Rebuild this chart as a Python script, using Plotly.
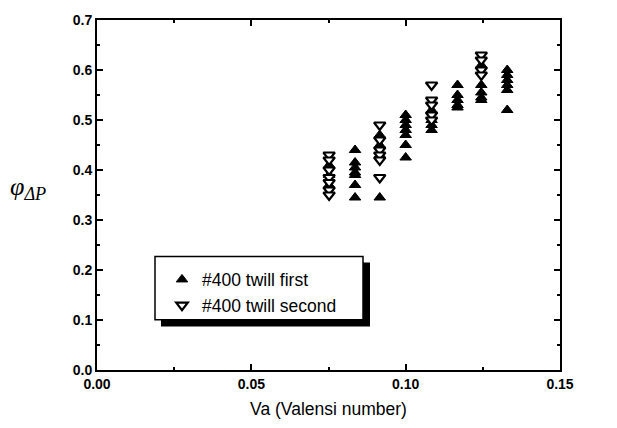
import plotly.graph_objects as go

# Va values of the data columns
va_cols = [0.0752, 0.0836, 0.0916, 0.1000, 0.1084, 0.1168, 0.1245, 0.1329]

# #400 twill first (filled up-triangles), per column
first_vals = [
    [0.41, 0.39, 0.37],
    [0.44, 0.415, 0.405, 0.395, 0.39, 0.37, 0.345],
    [0.47, 0.45, 0.43, 0.345],
    [0.51, 0.50, 0.49, 0.48, 0.47, 0.45, 0.425],
    [0.52, 0.50, 0.49, 0.48],
    [0.57, 0.55, 0.54, 0.53, 0.525],
    [0.61, 0.57, 0.555, 0.545, 0.54],
    [0.60, 0.59, 0.58, 0.57, 0.56, 0.52],
]

# #400 twill second (open down-triangles), per column
second_vals = [
    [0.43, 0.42, 0.40, 0.385, 0.375, 0.36, 0.35],
    [],
    [0.49, 0.46, 0.44, 0.43, 0.42, 0.385],
    [],
    [0.57, 0.54, 0.53, 0.51, 0.50],
    [],
    [0.63, 0.62, 0.60, 0.59],
    [],
]

series_names = ["#400 twill first", "#400 twill second"]
x_ticks = [0.00, 0.05, 0.10, 0.15]
y_ticks = [0.0, 0.1, 0.2, 0.3, 0.4, 0.5, 0.6, 0.7]


def flatten(cols):
    xs, ys = [], []
    for xv, vals in zip(va_cols, cols):
        for v in vals:
            xs.append(xv)
            ys.append(v)
    return xs, ys


x1, y1 = flatten(first_vals)
x2, y2 = flatten(second_vals)

fig = go.Figure()
fig.add_trace(go.Scatter(
    x=x1, y=y1, mode="markers", name=series_names[0], legendgroup="a",
    marker=dict(symbol="triangle-up", size=10, color="black",
                line=dict(color="black", width=1)),
))
fig.add_trace(go.Scatter(
    x=x2, y=y2, mode="markers", name=series_names[1], legendgroup="b",
    marker=dict(symbol="triangle-down", size=10, color="white",
                line=dict(color="black", width=2.2)),
))

L, R, T, B = 97, 57, 18, 55
W, H = 617, 428
pw, ph = W - L - R, H - T - B


def px(xp):
    return (xp - L) / pw


def py(yp):
    return (H - B - yp) / ph


axis_common = dict(
    showgrid=False, zeroline=False, showline=True, linecolor="black",
    linewidth=2, mirror="ticks", ticks="inside", ticklen=6, tickwidth=1.5,
    tickcolor="black",
    tickfont=dict(family="Liberation Sans, Arial", size=14, color="black", weight="bold"),
)

fig.update_layout(
    width=W, height=H,
    margin=dict(l=L, r=R, t=T, b=B),
    paper_bgcolor="white", plot_bgcolor="white",
    xaxis=dict(range=[0, 0.15], tickvals=x_ticks, tickformat=".2f",
               minor=dict(dtick=0.025, ticks="inside", ticklen=3, tickcolor="black"),
               title=dict(text="Va (Valensi number)", standoff=12,
                          font=dict(family="Liberation Sans, Arial", size=17.5, color="black")),
               **axis_common),
    yaxis=dict(range=[0, 0.7], tickvals=y_ticks, tickformat=".1f",
               minor=dict(dtick=0.05, ticks="inside", ticklen=3, tickcolor="black"),
               **axis_common),
    showlegend=True,
    legend=dict(x=px(162), y=py(263), xanchor="left", yanchor="top",
                bgcolor="rgba(0,0,0,0)", borderwidth=0, tracegroupgap=0,
                font=dict(family="Liberation Sans, Arial", size=17.5, color="black"),
                itemwidth=30),
    shapes=[
        dict(type="rect", xref="paper", yref="paper",
             x0=px(161), x1=px(370), y0=py(264), y1=py(329),
             fillcolor="black", line=dict(color="black", width=0), layer="below"),
        dict(type="rect", xref="paper", yref="paper",
             x0=px(155), x1=px(363), y0=py(258), y1=py(322),
             fillcolor="white", line=dict(color="black", width=1.5), layer="below"),
    ],
    annotations=[
        dict(text="<i>φ</i><sub><i>ΔP</i></sub>", xref="paper", yref="paper",
             x=px(8), y=py(188), xanchor="left", yanchor="middle", showarrow=False,
             font=dict(family="Liberation Serif, Times New Roman", size=26, color="black")),
    ],
)

fig.write_html("out.html")
